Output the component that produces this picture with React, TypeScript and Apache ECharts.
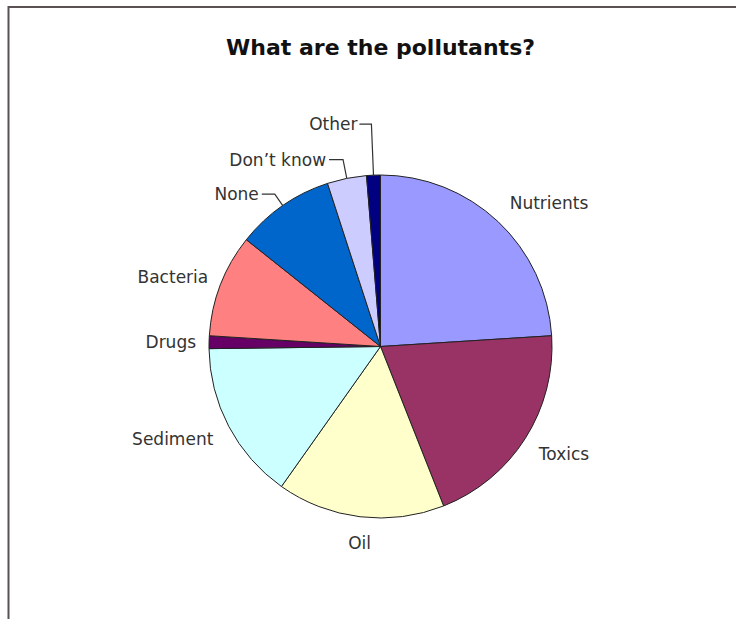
import React, { useEffect, useRef } from "react";
import * as echarts from "echarts";

// ---- data (percent of responses) ----
const titleText = "What are the pollutants?";
const categories = [
  "Nutrients",
  "Toxics",
  "Oil",
  "Sediment",
  "Drugs",
  "Bacteria",
  "None",
  "Don’t know",
  "Other",
];
const values = [24, 20, 15.8, 15, 1.2, 9.7, 9.3, 3.7, 1.3];
const colors = [
  "#9999FF",
  "#993366",
  "#FFFFCC",
  "#CCFFFF",
  "#660066",
  "#FF8080",
  "#0066CC",
  "#CCCCFF",
  "#000080",
];

// label placement tweaks (radial length, horizontal length, gap, leader line shown)
const labelTweaks: Record<string, { len: number; len2: number; gap: number; line: boolean }> = {
  Nutrients: { len: 26, len2: 0, gap: -6, line: false },
  Toxics: { len: 29, len2: 0, gap: -11, line: false },
  Oil: { len: 26, len2: 0, gap: -14, line: false },
  Sediment: { len: 27.5, len2: 0, gap: -9, line: false },
  Drugs: { len: 10, len2: 0, gap: 3, line: false },
  Bacteria: { len: 20.6, len2: 0, gap: -7, line: false },
  None: { len: 14, len2: 13, gap: 3, line: true },
  "Don’t know": { len: 19, len2: 14, gap: 3, line: true },
  Other: { len: 51, len2: 12, gap: 2, line: true },
};

const FONT = "'DejaVu Sans', Verdana, sans-serif";

export default function App() {
  const ref = useRef<HTMLDivElement>(null);

  useEffect(() => {
    if (!ref.current) return;
    const chart = echarts.init(ref.current, null, { renderer: "svg" });

    const data = categories.map((name, i) => {
      const t = labelTweaks[name];
      return {
        name,
        value: values[i],
        itemStyle: { color: colors[i] },
        label: { distanceToLabelLine: t.gap },
        labelLine: {
          show: t.line,
          length: t.len,
          length2: t.len2,
        },
      };
    });

    chart.setOption({
      animation: false,
      backgroundColor: "#ffffff",
      graphic: [
        {
          type: "line",
          shape: { x1: 8.5, y1: 7, x2: 736, y2: 7 },
          style: { stroke: "#5a5252", lineWidth: 2 },
          silent: true,
        },
        {
          type: "line",
          shape: { x1: 8.5, y1: 6, x2: 8.5, y2: 619 },
          style: { stroke: "#5a5252", lineWidth: 2 },
          silent: true,
        },
        {
          type: "text",
          x: 380.5,
          y: 47,
          style: {
            text: titleText,
            fill: "#111111",
            font: `bold 22px ${FONT}`,
            textAlign: "center",
            textVerticalAlign: "middle",
          },
          silent: true,
        },
      ],
      series: [
        {
          type: "pie",
          center: [380.5, 346.5],
          radius: 171.5,
          startAngle: 90,
          clockwise: true,
          avoidLabelOverlap: false,
          emphasis: { disabled: true },
          itemStyle: { borderColor: "#222222", borderWidth: 1 },
          label: {
            show: true,
            position: "outside",
            formatter: "{b}",
            color: "#333333",
            fontFamily: FONT,
            fontSize: 17,
          },
          labelLine: {
            show: false,
            smooth: false,
            lineStyle: { color: "#333333", width: 1.2 },
          },
          data,
        },
      ],
    });

    return () => chart.dispose();
  }, []);

  return (
    <div
      ref={ref}
      style={{ position: "absolute", left: 0, top: 0, width: 736, height: 619 }}
    />
  );
}
